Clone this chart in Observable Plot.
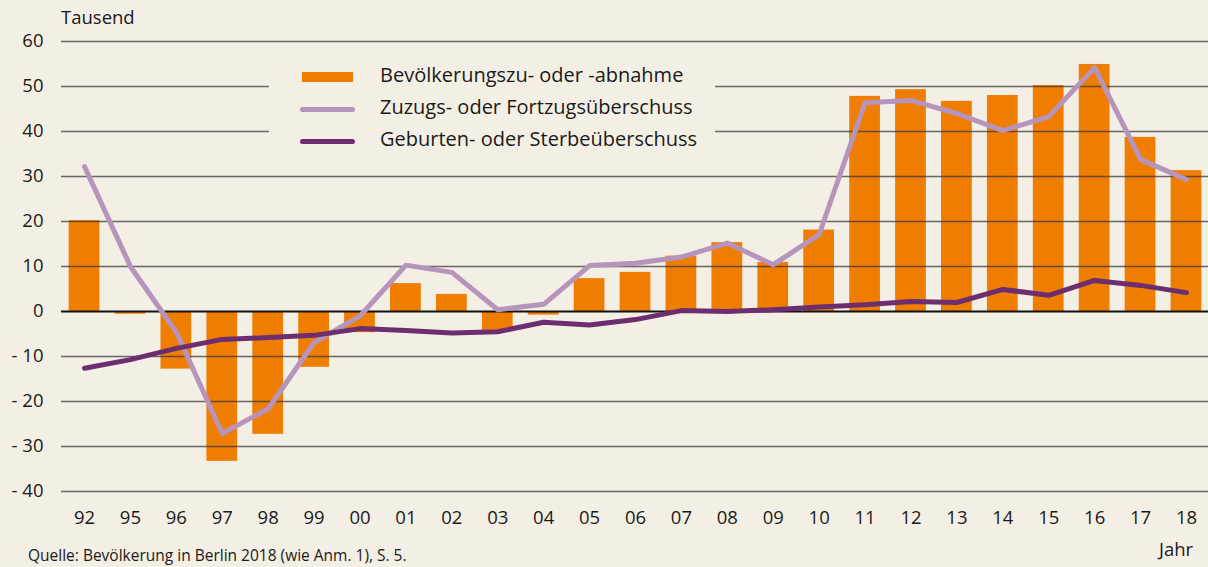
<!DOCTYPE html>
<html>
<head>
<meta charset="utf-8">
<script src="https://cdn.jsdelivr.net/npm/d3@7"></script>
<script src="https://cdn.jsdelivr.net/npm/@observablehq/plot@0.6"></script>
<style>
  html, body { margin: 0; padding: 0; background: #f4efe4; }
  #wrap { position: relative; width: 1208px; height: 567px; overflow: hidden; font-family: "Open Sans", sans-serif; color: #1a1a1a; }
  .abs { position: absolute; white-space: nowrap; }
  #legend { position: absolute; left: 269px; top: 52px; width: 446px; height: 110px; background: #f4efe4; }
  .li { position: absolute; left: 0; height: 32px; width: 446px; }
  .sw { position: absolute; left: 32px; }
  .lt { position: absolute; left: 111px; font-size: 20px; top: -3px; }
</style>
</head>
<body>
<div id="wrap">
  <div id="chart"></div>
  <div class="abs" style="left:61px; top:4px; font-size:18.5px;">Tausend</div>
  <div class="abs" style="left:1159px; top:536px; font-size:18.5px;">Jahr</div>
  <div class="abs" style="left:28px; top:545px; font-size:15.5px; line-height:20px;">Quelle: Bevölkerung in Berlin 2018 (wie Anm. 1), S. 5.</div>
  <div id="legend"></div>
</div>
<script>
const years = ["92","95","96","97","98","99","00","01","02","03","04","05","06","07","08","09","10","11","12","13","14","15","16","17","18"];
const total = [20.2,-0.6,-12.8,-33.3,-27.3,-12.4,-4.7,6.2,3.8,-4.2,-0.8,7.3,8.7,12.3,15.3,10.9,18.1,47.8,49.3,46.7,48.0,50.2,54.9,38.7,31.3];
const migration = [32.2,10.0,-4.6,-27.1,-21.6,-6.9,-1.0,10.3,8.7,0.4,1.6,10.2,10.7,12.1,15.2,10.4,17.1,46.4,46.9,44.0,40.2,43.3,54.2,33.8,29.3];
const natural = [-12.6,-10.7,-8.2,-6.2,-5.8,-5.3,-3.8,-4.2,-4.8,-4.5,-2.4,-3.0,-1.8,0.2,0.0,0.4,1.0,1.5,2.2,2.0,4.9,3.6,6.9,5.8,4.2];
const yTicks = [60,50,40,30,20,10,0,-10,-20,-30,-40];
const seriesNames = ["Bevölkerungszu- oder -abnahme","Zuzugs- oder Fortzugsüberschuss","Geburten- oder Sterbeüberschuss"];
const colors = ["#ef7d00","#b694bb","#6d2e70"];

const rows = years.map((y,i)=>({year:y,total:total[i],migration:migration[i],natural:natural[i]}));

const chart = Plot.plot({
  width: 1208,
  height: 567,
  marginLeft: 61,
  marginRight: 0,
  marginTop: 41,
  marginBottom: 76,
  style: {background: "transparent", fontFamily: "Open Sans, sans-serif", fontSize: "18.5px", color: "#1a1a1a"},
  x: {domain: years, range: [53.5, 1216.5], padding: 0.33, round: false, label: null, tickSize: 0, tickPadding: 19},
  y: {domain: [-40,60], ticks: yTicks, label: null, tickSize: 0, tickPadding: 18,
      tickFormat: d => d < 0 ? "- " + Math.abs(d) : String(d)},
  marks: [
    Plot.barY(rows, {x: "year", y: "total", fill: colors[0]}),
    Plot.ruleY(yTicks.filter(d => d !== 0), {stroke: "#3a3a3a", strokeWidth: 1.6, strokeOpacity: 0.75}),
    Plot.ruleY([0], {stroke: "#111", strokeWidth: 2.2}),
    Plot.lineY(rows, {x: "year", y: "migration", stroke: colors[1], strokeWidth: 5}),
    Plot.lineY(rows, {x: "year", y: "natural", stroke: colors[2], strokeWidth: 5})
  ]
});
document.getElementById("chart").appendChild(chart);

const legend = document.getElementById("legend");
seriesNames.forEach((name,i)=>{
  const li = document.createElement("div");
  li.className = "li";
  li.style.top = (12 + i*32) + "px";
  const sw = document.createElement("div");
  sw.className = "sw";
  if (i === 0) {
    sw.style.cssText = `left:33px; top:8px; width:51px; height:10px; background:${colors[0]};`;
  } else {
    sw.style.cssText = `left:31px; top:11px; width:55px; height:5px; border-radius:3px; background:${colors[i]};`;
  }
  const lt = document.createElement("div");
  lt.className = "lt";
  lt.textContent = name;
  li.appendChild(sw); li.appendChild(lt);
  legend.appendChild(li);
});
</script>
</body>
</html>
